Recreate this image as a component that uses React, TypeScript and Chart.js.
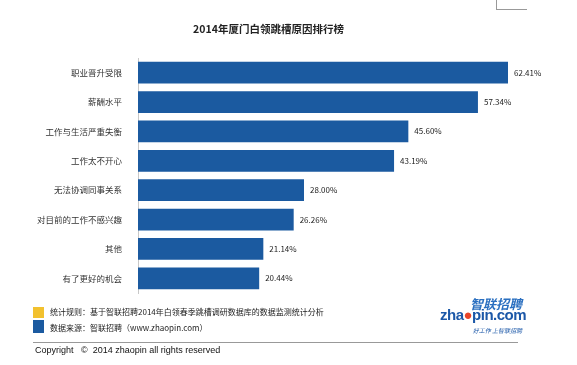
import React, { useEffect, useRef } from "react";
import { Chart, registerables } from "chart.js";

Chart.register(...registerables);

const categories = [
  "职业晋升受限",
  "薪酬水平",
  "工作与生活严重失衡",
  "工作太不开心",
  "无法协调同事关系",
  "对目前的工作不感兴趣",
  "其他",
  "有了更好的机会",
];
const values = [62.41, 57.34, 45.6, 43.19, 28.0, 26.26, 21.14, 20.44];
const title = "2014年厦门白领跳槽原因排行榜";
const note1 = "统计规则：基于智联招聘2014年白领春季跳槽调研数据库的数据监测统计分析";
const note2 = "数据来源：智联招聘（www.zhaopin.com）";
const copyright = "Copyright   ©  2014 zhaopin all rights reserved";

const BAR = "#1b5aa0";
const FONT = '"Noto Sans CJK SC", "Noto Sans", sans-serif';

const valueLabels = {
  id: "valueLabels",
  afterDatasetsDraw(chart: any) {
    const ctx = chart.ctx;
    const meta = chart.getDatasetMeta(0);
    ctx.save();
    ctx.font = `8px ${FONT}`;
    ctx.fillStyle = "#222";
    ctx.textBaseline = "middle";
    ctx.textAlign = "left";
    meta.data.forEach((el: any, i: number) => {
      ctx.fillText(values[i].toFixed(2) + "%", el.x + 6, el.y);
    });
    ctx.restore();
  },
};

export default function App() {
  const ref = useRef<HTMLCanvasElement>(null);
  useEffect(() => {
    const chart = new Chart(ref.current!, {
      type: "bar",
      data: {
        labels: categories,
        datasets: [
          {
            data: values,
            backgroundColor: BAR,
            borderWidth: 0,
            barPercentage: 0.74,
            categoryPercentage: 1,
          },
        ],
      },
      options: {
        indexAxis: "y",
        animation: false,
        responsive: false,
        layout: { padding: { left: 0, right: 24, top: 58, bottom: 72 } },
        plugins: { legend: { display: false }, tooltip: { enabled: false } },
        scales: {
          x: { display: false, min: 0, max: 70 },
          y: {
            grid: { display: false },
            border: { display: true, color: "#c8c8c8" },
            ticks: { color: "#333", font: { size: 8.5, family: FONT }, padding: 8 },
            afterFit: (s: any) => {
              s.width = 138;
            },
          },
        },
      },
      plugins: [valueLabels],
    });
    return () => chart.destroy();
  }, []);

  return (
    <div style={{ position: "fixed", left: 0, top: 0, width: 577, height: 365, background: "#fff", overflow: "hidden", fontFamily: FONT }}>
      <canvas ref={ref} width={577} height={365} style={{ position: "absolute", left: 0, top: 0 }} />
      <div style={{ position: "absolute", left: 0, width: 537, top: 21, textAlign: "center", fontSize: 10.5, fontWeight: "bold", color: "#222" }}>{title}</div>
      <div style={{ position: "absolute", left: 496, top: -1, width: 30, height: 10, borderLeft: "1px solid #999", borderBottom: "1px solid #999" }} />
      <div style={{ position: "absolute", left: 33, top: 307, width: 11, height: 11, background: "#f2c12e" }} />
      <div style={{ position: "absolute", left: 33, top: 320, width: 11, height: 13, background: BAR }} />
      <div style={{ position: "absolute", left: 50, top: 306, fontSize: 8, color: "#222", whiteSpace: "nowrap" }}>{note1}</div>
      <div style={{ position: "absolute", left: 50, top: 322, fontSize: 8, color: "#222", whiteSpace: "nowrap" }}>{note2}</div>
      <div style={{ position: "absolute", left: 33, top: 342, width: 485, height: 1, background: "#999" }} />
      <div style={{ position: "absolute", left: 35, top: 345, fontSize: 9, color: "#111", whiteSpace: "pre", fontFamily: '"Liberation Sans", Arial, sans-serif' }}>{copyright}</div>
      <div style={{ position: "absolute", left: 464, top: 294, width: 58, textAlign: "right", fontSize: 13, fontStyle: "italic", fontWeight: "bold", color: "#2a6fc0", whiteSpace: "nowrap" }}>智联招聘</div>
      <div style={{ position: "absolute", left: 440, top: 306, width: 82, textAlign: "right", fontSize: 15, fontWeight: "bold", color: "#1c58a8", whiteSpace: "nowrap", letterSpacing: -0.5, fontFamily: '"Liberation Sans", Arial, sans-serif' }}>
        zha<span style={{ color: "#e8452a" }}>●</span>pin.com
      </div>
      <div style={{ position: "absolute", left: 470, top: 326, width: 52, textAlign: "right", fontSize: 6, fontStyle: "italic", color: "#1c58a8", whiteSpace: "nowrap" }}>好工作 上智联招聘</div>
    </div>
  );
}
